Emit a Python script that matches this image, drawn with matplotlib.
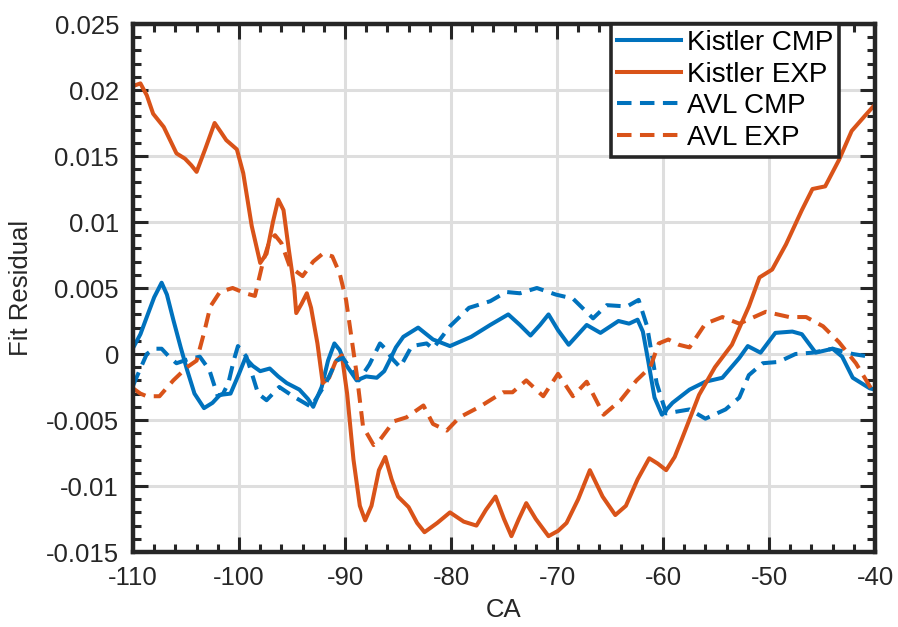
import matplotlib
matplotlib.use("Agg")
import matplotlib.pyplot as plt
from matplotlib.ticker import MultipleLocator, FuncFormatter

plt.rcParams["font.family"] = ["Liberation Sans", "DejaVu Sans"]
plt.rcParams["axes.unicode_minus"] = False

# Kistler CMP (solid blue)
kcmp_x = [-110, -109.3, -108.7, -108.0, -107.3, -106.8, -106.2, -105.5, -104.9, -104.2,
          -103.3, -102.5, -101.8, -100.8, -100.0, -99.4, -98.7, -98.0, -97.1, -96.3,
          -95.5, -94.3, -93.5, -93.0, -92.2, -91.6, -91.0, -90.5, -90.0, -88.9,
          -88.0, -87.0, -86.3, -85.8, -85.2, -84.5, -83.1, -81.7, -80.1, -78.1,
          -76.3, -74.6, -73.5, -72.5, -71.6, -70.8, -69.9, -68.9, -67.2, -65.9,
          -64.2, -63.2, -62.4, -61.9, -61.4, -60.8, -60.1, -59.1, -57.5, -56.0,
          -54.4, -52.8, -52.0, -50.8, -49.4, -47.8, -46.9, -45.6, -44.0, -43.1,
          -42.1, -40.5, -40]
kcmp_y = [0.00045, 0.0015, 0.0028, 0.0043, 0.0054, 0.0045, 0.0026, 0.0005, -0.0012, -0.0030,
          -0.0041, -0.0037, -0.0031, -0.0030, -0.0015, -0.0003, -0.0009, -0.0013, -0.0011, -0.0017,
          -0.0022, -0.0027, -0.0034, -0.0040, -0.0025, -0.0005, 0.0008, 0.0003, -0.0007, -0.0020,
          -0.0017, -0.0018, -0.0013, -0.0005, 0.0005, 0.0013, 0.0020, 0.0011, 0.0006, 0.0013,
          0.0022, 0.0030, 0.0022, 0.0014, 0.0022, 0.0030, 0.0018, 0.0007, 0.0022, 0.0016,
          0.0025, 0.0023, 0.0026, 0.0017, -0.0005, -0.0033, -0.0046, -0.0037, -0.0027, -0.0021,
          -0.0018, -0.0003, 0.0006, 0.0001, 0.0016, 0.0017, 0.0015, 0.0001, 0.0004, -0.0002,
          -0.0018, -0.0026, -0.0027]

# Kistler EXP (solid orange)
kexp_x = [-110, -109.3, -108.7, -108.1, -107.1, -105.9, -105.1, -104.5, -104.0, -103.2,
          -102.3, -101.7, -101.2, -100.2, -99.6, -98.8, -98.0, -97.4, -96.8, -96.3,
          -95.8, -95.3, -94.8, -94.6, -94.1, -93.6, -93.2, -92.6, -92.1, -91.5,
          -90.9, -90.3, -89.8, -89.2, -88.6, -88.1, -87.5, -86.8, -86.2, -85.6,
          -85.0, -84.0, -83.2, -82.5, -81.3, -80.1, -78.8, -77.6, -76.7, -75.8,
          -75.0, -74.3, -73.6, -72.9, -72.0, -70.8, -69.9, -69.1, -68.0, -66.9,
          -65.7, -64.5, -63.5, -62.4, -61.3, -60.5, -59.7, -58.9, -58.2, -56.6,
          -55.1, -53.5, -51.9, -50.9, -49.7, -48.4, -46.9, -45.9, -44.7, -43.4,
          -42.2, -41.0, -40]
kexp_y = [0.0203, 0.0205, 0.0196, 0.0182, 0.0172, 0.0152, 0.0148, 0.0143, 0.0138, 0.0155,
          0.0175, 0.0168, 0.0162, 0.0155, 0.0137, 0.0097, 0.0069, 0.0076, 0.0100, 0.0117,
          0.0109, 0.0079, 0.0051, 0.0031, 0.0038, 0.0046, 0.0035, 0.0008, -0.0022, -0.0018,
          -0.0006, -0.0001, -0.0030, -0.0080, -0.0115, -0.0126, -0.0115, -0.0088, -0.0078, -0.0095,
          -0.0108, -0.0116, -0.0128, -0.0135, -0.0128, -0.0120, -0.0127, -0.0130, -0.0118, -0.0108,
          -0.0125, -0.0138, -0.0125, -0.0113, -0.0125, -0.0138, -0.0134, -0.0128, -0.0110, -0.0088,
          -0.0108, -0.0122, -0.0115, -0.0095, -0.0079, -0.0083, -0.0088, -0.0078, -0.0064, -0.0031,
          -0.0010, 0.0007, 0.0036, 0.0058, 0.0064, 0.0083, 0.0109, 0.0125, 0.0127, 0.0147,
          0.0169, 0.0180, 0.0189]

# AVL CMP (dashed blue)
acmp_x = [-110, -109.3, -108.7, -108.0, -107.3, -106.6, -105.9, -104.8, -103.7, -102.8,
          -102.0, -101.5, -101.0, -100.5, -100.1, -99.3, -98.7, -98.2, -97.4, -96.2,
          -94.9, -93.2, -91.8, -90.8, -90.2, -89.4, -88.7, -87.7, -86.7, -86.2,
          -85.5, -84.8, -83.7, -82.3, -81.7, -80.1, -78.3, -76.3, -74.8, -73.5,
          -71.9, -70.1, -68.5, -66.6, -65.3, -63.4, -62.3, -61.5, -60.6, -59.7,
          -57.5, -56.0, -54.1, -52.8, -51.9, -50.6, -49.1, -47.5, -45.9, -44.0,
          -42.1, -40.5, -40]
acmp_y = [-0.0024, -0.0011, 0.0000, 0.0004, 0.0004, -0.0002, -0.0007, -0.0004, -0.0002, -0.0012,
          -0.0032, -0.0030, -0.0022, -0.0005, 0.0006, -0.0002, -0.0017, -0.0030, -0.0035, -0.0025,
          -0.0032, -0.0040, -0.0022, -0.0005, -0.0003, -0.0012, -0.0020, -0.0008, 0.0008, 0.0004,
          -0.0004, -0.0010, 0.0006, 0.0008, 0.0004, 0.0021, 0.0035, 0.0040, 0.0047, 0.0046,
          0.0050, 0.0045, 0.0042, 0.0027, 0.0037, 0.0036, 0.0041, 0.0021, -0.0022, -0.0045,
          -0.0042, -0.0049, -0.0042, -0.0033, -0.0016, -0.0007, -0.0006, 0.0000, 0.0001, 0.0004,
          0.0000, -0.0002, -0.0003]

# AVL EXP (dashed orange)
aexp_x = [-110, -109.3, -108.7, -107.5, -106.2, -104.9, -104.0, -103.3, -102.7, -101.8,
          -100.6, -99.4, -98.5, -97.7, -97.1, -96.6, -96.0, -95.2, -94.0, -93.0,
          -92.1, -91.2, -90.5, -89.9, -88.9, -88.3, -87.3, -86.7, -85.4, -84.2,
          -82.6, -81.7, -80.4, -79.2, -77.3, -75.1, -74.2, -72.9, -71.3, -69.9,
          -68.5, -67.2, -65.6, -64.0, -62.5, -61.2, -60.4, -59.5, -58.5, -57.5,
          -56.0, -54.4, -52.8, -50.3, -48.1, -46.5, -44.9, -43.4, -41.8, -40.3,
          -40]
aexp_y = [-0.0026, -0.0030, -0.0032, -0.0032, -0.0020, -0.0010, -0.0005, 0.0016, 0.0036, 0.0047,
          0.0050, 0.0046, 0.0044, 0.0071, 0.0086, 0.0090, 0.0084, 0.0066, 0.0059, 0.0070,
          0.0076, 0.0074, 0.0061, 0.0041, -0.0015, -0.0055, -0.0069, -0.0065, -0.0051, -0.0048,
          -0.0039, -0.0053, -0.0058, -0.0048, -0.0040, -0.0029, -0.0029, -0.0020, -0.0032, -0.0015,
          -0.0032, -0.0021, -0.0046, -0.0035, -0.0020, -0.0010, 0.0008, 0.0011, 0.0007, 0.0005,
          0.0023, 0.0028, 0.0023, 0.0032, 0.0028, 0.0028, 0.0021, 0.0009, -0.0007, -0.0027,
          -0.0029]

blue = "#0072BD"
orange = "#D95319"
fs = 18.5
dash = (0, (3.6, 2.1))

fig = plt.figure(figsize=(8.98, 6.27), dpi=100)
ax = fig.add_axes([133 / 898, 75 / 627, 742 / 898, 528 / 627])

lw = 2.9
ax.plot(kcmp_x, kcmp_y, color=blue, lw=lw, solid_joinstyle="round", label="Kistler CMP")
ax.plot(kexp_x, kexp_y, color=orange, lw=lw, solid_joinstyle="round", label="Kistler EXP")
ax.plot(acmp_x, acmp_y, color=blue, lw=lw, linestyle=dash, dash_joinstyle="round", label="AVL CMP")
ax.plot(aexp_x, aexp_y, color=orange, lw=lw, linestyle=dash, dash_joinstyle="round", label="AVL EXP")

ax.set_xlim(-110, -40)
ax.set_ylim(-0.015, 0.025)
ax.xaxis.set_major_locator(MultipleLocator(10))
ax.xaxis.set_minor_locator(MultipleLocator(2))
ax.yaxis.set_major_locator(MultipleLocator(0.005))
ax.yaxis.set_minor_locator(MultipleLocator(0.001))
ax.yaxis.set_major_formatter(FuncFormatter(lambda v, p: "%g" % round(v, 4)))
ax.xaxis.set_major_formatter(FuncFormatter(lambda v, p: "%g" % v))

ax.grid(True, which="major", color="#dedede", linewidth=2.2)
ax.set_axisbelow(True)
ax.tick_params(which="both", direction="in", top=True, right=True,
               colors="#262626", labelcolor="#262626", labelsize=fs)
ax.tick_params(which="major", length=10.5, width=2.2, pad=10)
ax.tick_params(which="minor", length=5.5, width=2.2)
for s in ax.spines.values():
    s.set_linewidth(3.2)
    s.set_color("#262626")

ax.set_xlabel("CA", fontsize=fs, color="#262626", labelpad=6)
ax.set_ylabel("Fit Residual", fontsize=fs, color="#262626", labelpad=9)

leg = ax.legend(loc="upper right", bbox_to_anchor=((839 - 133) / 742, 1.0),
                borderaxespad=0, fontsize=20, fancybox=False, framealpha=1,
                edgecolor="#262626", handlelength=2.3, handletextpad=0.2,
                labelspacing=0.2, borderpad=0.22)
leg.get_frame().set_linewidth(2.6)

fig.savefig("out.png", dpi=100)
